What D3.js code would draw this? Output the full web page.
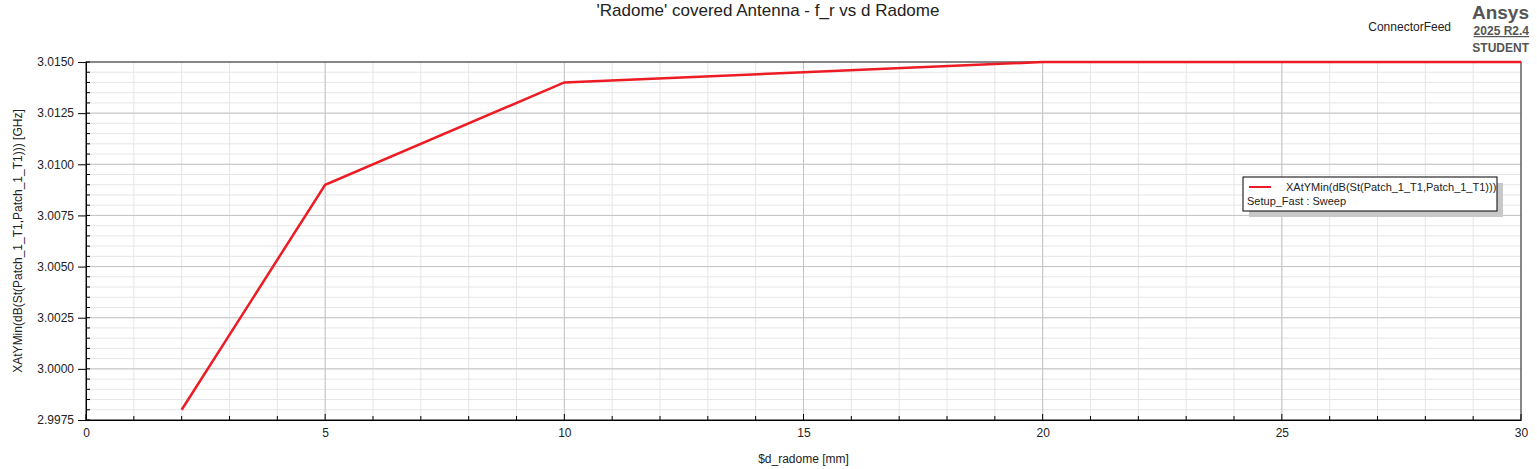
<!DOCTYPE html>
<html>
<head>
<meta charset="utf-8">
<script src="https://cdn.jsdelivr.net/npm/d3@7"></script>
<style>
body { margin: 0; background: #fff; font-family: Arial, "Liberation Sans", sans-serif; }
text { fill: #222; }
</style>
</head>
<body>
<div id="chart"></div>
<script>
var dRadome = [2, 5, 10, 15, 20, 25, 30];
var freq = [2.998, 3.009, 3.014, 3.0145, 3.01506, 3.0152, 3.0153];
var yTicks = [2.9975, 3.0000, 3.0025, 3.0050, 3.0075, 3.0100, 3.0125, 3.0150];
var xTicks = [0, 5, 10, 15, 20, 25, 30];

var svgWidth = 1537, svgHeight = 469;
var margin = { top: 62, right: 16, bottom: 49, left: 86 };
var width = svgWidth - margin.left - margin.right;
var height = svgHeight - margin.top - margin.bottom;

var svg = d3.select("#chart").append("svg")
    .attr("width", svgWidth).attr("height", svgHeight);

svg.append("text").attr("x", 768).attr("y", 16).attr("text-anchor", "middle")
    .attr("font-size", "17px").text("'Radome' covered Antenna - f_r vs d Radome");
svg.append("text").attr("x", 1451).attr("y", 31).attr("text-anchor", "end")
    .attr("font-size", "12px").text("ConnectorFeed");
svg.append("text").attr("x", 1529).attr("y", 19).attr("text-anchor", "end")
    .attr("font-size", "19px").attr("font-weight", "bold").style("fill", "#555").text("Ansys");
svg.append("text").attr("x", 1529).attr("y", 35).attr("text-anchor", "end")
    .attr("font-size", "12px").attr("font-weight", "bold").style("fill", "#555")
    .attr("text-decoration", "underline").text("2025 R2.4");
svg.append("text").attr("x", 1529).attr("y", 52).attr("text-anchor", "end")
    .attr("font-size", "12px").attr("font-weight", "bold").style("fill", "#555").text("STUDENT");

var g = svg.append("g").attr("transform", `translate(${margin.left}, ${margin.top})`);

var x = d3.scaleLinear().domain([0, 30]).range([0, width]);
var y = d3.scaleLinear().domain([2.9975, 3.015]).range([height, 0]).clamp(true);

// minor grid
g.append("g").selectAll("line").data(d3.range(0, 31, 1)).enter().append("line")
    .attr("x1", d => x(d)).attr("x2", d => x(d)).attr("y1", 0).attr("y2", height)
    .attr("stroke", "#e6e6e6");
g.append("g").selectAll("line").data(d3.range(0, 36).map(i => 2.9975 + i * 0.0005)).enter().append("line")
    .attr("y1", d => y(d)).attr("y2", d => y(d)).attr("x1", 0).attr("x2", width)
    .attr("stroke", "#e6e6e6");
// major grid
g.append("g").selectAll("line").data(xTicks).enter().append("line")
    .attr("x1", d => x(d)).attr("x2", d => x(d)).attr("y1", 0).attr("y2", height)
    .attr("stroke", "#c4c4c4");
g.append("g").selectAll("line").data(yTicks).enter().append("line")
    .attr("y1", d => y(d)).attr("y2", d => y(d)).attr("x1", 0).attr("x2", width)
    .attr("stroke", "#c4c4c4");

g.append("rect").attr("width", width).attr("height", height)
    .attr("fill", "none").attr("stroke", "#333");

// axes
var bottomAxis = d3.axisBottom(x).tickValues(xTicks).tickSize(0).tickPadding(8);
var gx = g.append("g").attr("transform", `translate(0, ${height})`).call(bottomAxis);
gx.select(".domain").attr("stroke", "#000");
gx.selectAll("text").attr("font-size", "12px").style("fill", "#222");
g.append("g").selectAll("line").data(d3.range(0, 31, 1)).enter().append("line")
    .attr("x1", d => x(d)).attr("x2", d => x(d))
    .attr("y1", height).attr("y2", d => height - (d % 5 === 0 ? 6 : 4)).attr("stroke", "#000");

var leftAxis = d3.axisLeft(y).tickValues(yTicks).tickFormat(d3.format(".4f")).tickSize(8).tickPadding(4);
var gy = g.append("g").call(leftAxis);
gy.select(".domain").attr("stroke", "#000");
gy.selectAll("text").attr("font-size", "12px").style("fill", "#222");
g.append("g").selectAll("line").data(d3.range(0, 36).map(i => 2.9975 + i * 0.0005)).enter().append("line")
    .attr("y1", d => y(d)).attr("y2", d => y(d)).attr("x1", 0).attr("x2", 4).attr("stroke", "#000");

// line (values above the range are pinned to the top edge)
var data = dRadome.map((d, i) => ({ x: d, y: freq[i] }));
g.append("path").datum(data)
    .attr("fill", "none").attr("stroke", "#ed1c24").attr("stroke-width", 2.5)
    .attr("d", d3.line().x(d => x(d.x)).y(d => y(d.y)));

// axis labels
svg.append("text").attr("x", margin.left + width / 2).attr("y", 463).attr("text-anchor", "middle")
    .attr("font-size", "12px").text("$d_radome [mm]");
svg.append("text").attr("transform", "rotate(-90)")
    .attr("x", -(margin.top + height / 2)).attr("y", 22).attr("text-anchor", "middle")
    .attr("font-size", "12px").text("XAtYMin(dB(St(Patch_1_T1,Patch_1_T1))) [GHz]");

// legend
var lg = svg.append("g").attr("transform", "translate(1243, 177)");
lg.append("rect").attr("x", 6).attr("y", 6).attr("width", 254).attr("height", 34).attr("fill", "#c8c8c8");
lg.append("rect").attr("width", 254).attr("height", 34).attr("fill", "#fff").attr("stroke", "#000");
lg.append("line").attr("x1", 6).attr("x2", 28).attr("y1", 10).attr("y2", 10)
    .attr("stroke", "#ed1c24").attr("stroke-width", 2);
lg.append("text").attr("x", 43).attr("y", 14).attr("font-size", "11px")
    .text("XAtYMin(dB(St(Patch_1_T1,Patch_1_T1)))");
lg.append("text").attr("x", 4).attr("y", 28).attr("font-size", "11px").text("Setup_Fast : Sweep");
</script>
</body>
</html>
